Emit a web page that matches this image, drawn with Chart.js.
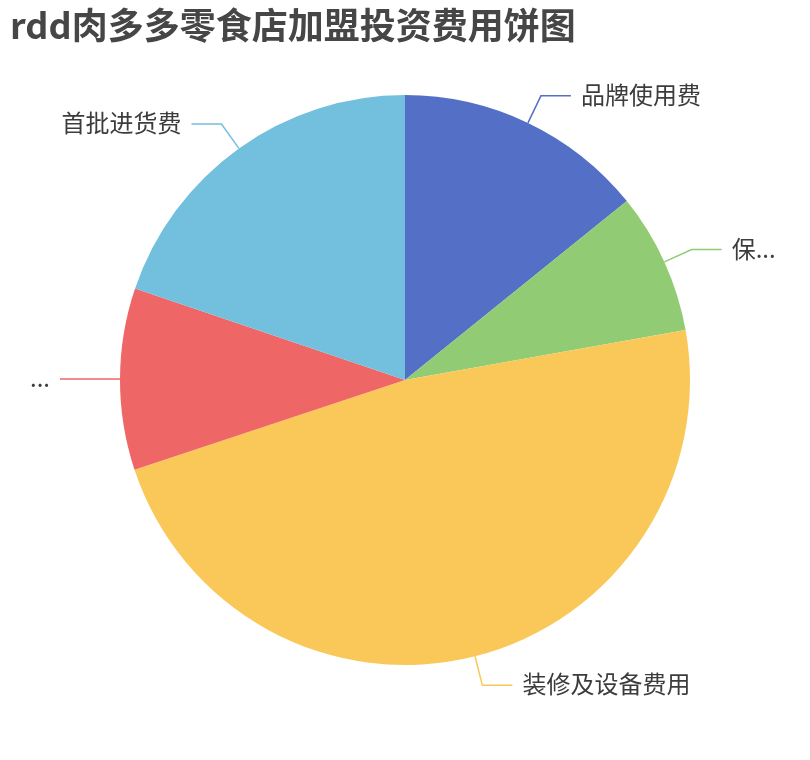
<!DOCTYPE html>
<html>
<head>
<meta charset="utf-8">
<script src="https://cdn.jsdelivr.net/npm/chart.js@4/dist/chart.umd.min.js"></script>
<style>
  body { margin: 0; background: #fff; }
  #wrap { width: 810px; height: 760px; }
</style>
</head>
<body>
<div id="wrap"><canvas id="pieChart" width="810" height="760"></canvas></div>
<script>
// data (share of total, %)
const categories = ['品牌使用费', '保...', '装修及设备费用', '...', '首批进货费'];
const values = [14.2, 8.0, 47.7, 10.3, 19.8];
const colors = ['#5470c6', '#91cc75', '#fac858', '#ee6666', '#73c0de'];
const titleText = 'rdd肉多多零食店加盟投资费用饼图';

// title + outside labels with leader lines
const labelPlugin = {
    id: 'pieLabels',
    afterDraw(chart) {
        const ctx = chart.ctx;
        ctx.save();
        ctx.font = 'bold 36px "Noto Sans CJK SC", sans-serif';
        ctx.fillStyle = '#464646';
        ctx.textAlign = 'left';
        ctx.textBaseline = 'middle';
        ctx.fillText(titleText, 10, 25);

        const meta = chart.getDatasetMeta(0);
        ctx.font = '24px "Noto Sans CJK SC", sans-serif';
        meta.data.forEach((arc, i) => {
            const { x, y, startAngle, endAngle, outerRadius } = arc.getProps(['x', 'y', 'startAngle', 'endAngle', 'outerRadius'], true);
            const mid = (startAngle + endAngle) / 2;
            const cos = Math.cos(mid), sin = Math.sin(mid);
            const x1 = x + outerRadius * cos, y1 = y + outerRadius * sin;
            const x2 = x + (outerRadius + 30) * cos, y2 = y + (outerRadius + 30) * sin;
            const dir = cos >= 0 ? 1 : -1;
            const x3 = x2 + dir * 30;

            ctx.strokeStyle = colors[i];
            ctx.lineWidth = 1.5;
            ctx.beginPath();
            ctx.moveTo(x1, y1);
            ctx.lineTo(x2, y2);
            ctx.lineTo(x3, y2);
            ctx.stroke();

            ctx.fillStyle = '#3c3c3c';
            ctx.textAlign = dir > 0 ? 'left' : 'right';
            ctx.fillText(categories[i], x3 + dir * 10, y2 - 1);
        });
        ctx.restore();
    }
};

new Chart(document.getElementById('pieChart'), {
    type: 'pie',
    data: {
        labels: categories,
        datasets: [{
            data: values,
            backgroundColor: colors,
            borderColor: '#fff',
            borderWidth: 0,
            radius: 285
        }]
    },
    options: {
        responsive: false,
        animation: false,
        layout: { padding: { left: 120, right: 120, top: 95, bottom: 95 } },
        plugins: {
            legend: { display: false },
            tooltip: { enabled: false },
            title: { display: false }
        }
    },
    plugins: [labelPlugin]
});
</script>
</body>
</html>
